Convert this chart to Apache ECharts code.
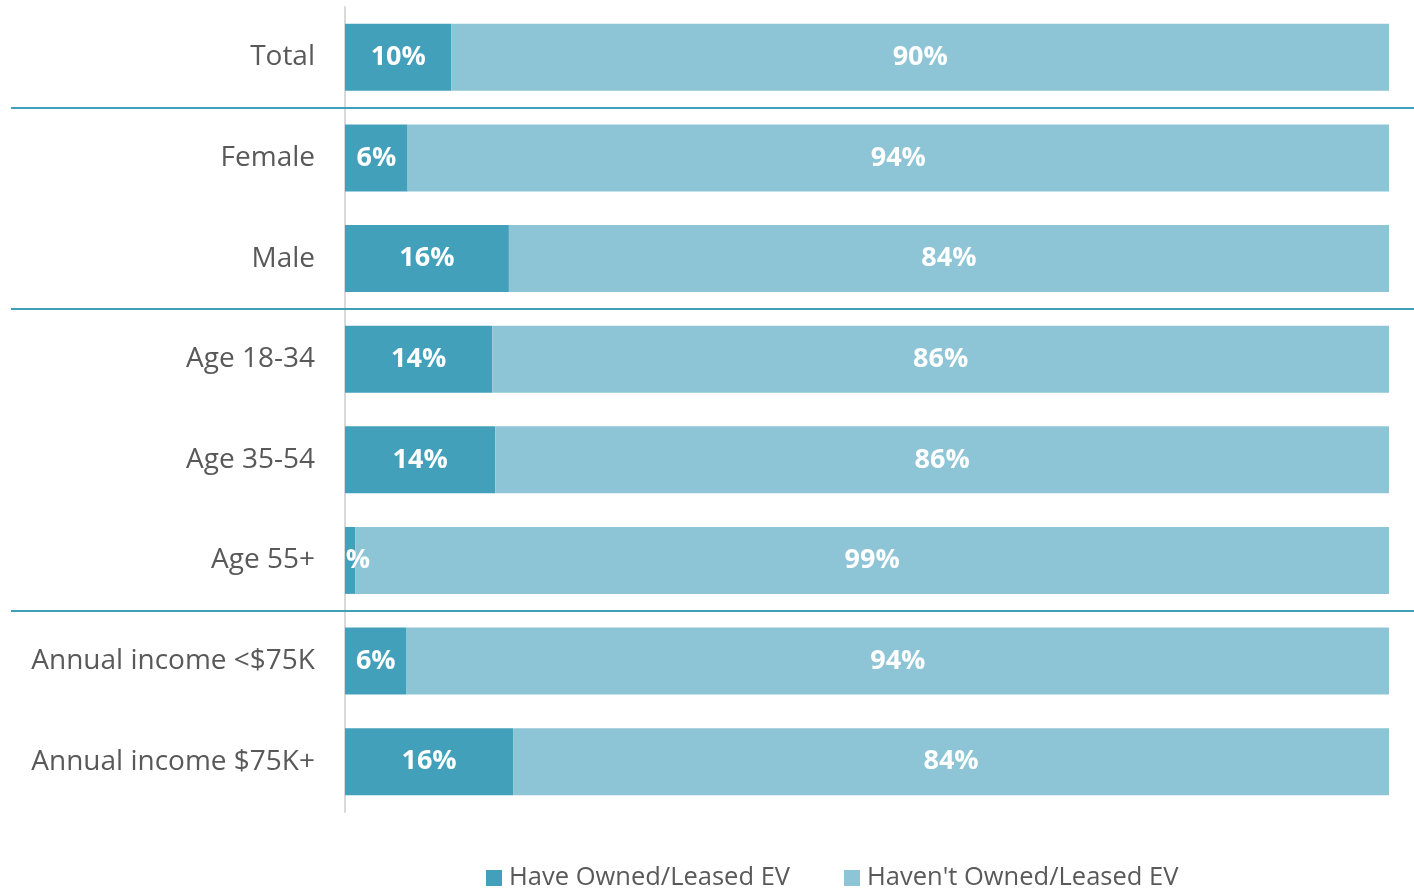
<!DOCTYPE html>
<html>
<head>
<meta charset="utf-8">
<script src="https://cdn.jsdelivr.net/npm/echarts@6/dist/echarts.min.js"></script>
<style>html,body{margin:0;padding:0;background:#fff;}#c{width:1414px;height:889px;}</style>
</head>
<body>
<div id="c"></div>
<script>
const categories = ['Total','Female','Male','Age 18-34','Age 35-54','Age 55+','Annual income <$75K','Annual income $75K+'];
const haveOwned = [10.2, 6.0, 15.7, 14.1, 14.4, 1.0, 5.9, 16.1];
const haventOwned = [89.8, 94.0, 84.3, 85.9, 85.6, 99.0, 94.1, 83.9];
const seriesNames = ['Have Owned/Leased EV', "Haven't Owned/Leased EV"];
// separators drawn after these category indices
const separatorsAfter = [0, 2, 5];

const FONT = 'Open Sans';
const chart = echarts.init(document.getElementById('c'));
const labelStyle = {
  show: true, position: 'inside', color: '#ffffff', fontFamily: FONT,
  fontWeight: 'bold', fontSize: 27,
  formatter: p => Math.round(p.value) + '%'
};
chart.setOption({
  animation: false,
  grid: { left: 345, right: 25, top: 7, bottom: 77, containLabel: false },
  xAxis: { type: 'value', min: 0, max: 100, show: false },
  yAxis: {
    type: 'category', data: categories, inverse: true,
    axisLine: { show: true, lineStyle: { color: '#d9d9d9', width: 2 } },
    axisTick: { show: false },
    axisLabel: { color: '#595959', fontFamily: FONT, fontSize: 28, margin: 30 }
  },
  legend: {
    top: 860, left: 481, itemWidth: 16, itemHeight: 16, itemGap: 54,
    icon: 'rect',
    textStyle: { color: '#595959', fontFamily: FONT, fontSize: 25.5, padding: [0,0,0,2] },
    data: seriesNames
  },
  series: [
    { name: seriesNames[0], type: 'bar', stack: 's', data: haveOwned, barCategoryGap: '33.5%',
      itemStyle: { color: '#42a0bb' }, label: labelStyle, z: 2 },
    { name: seriesNames[1], type: 'bar', stack: 's', data: haventOwned, barCategoryGap: '33.5%',
      itemStyle: { color: '#8ec5d6' }, label: labelStyle, z: 2 }
  ]
});

function drawExtras() {
  const els = [];
  const x0 = chart.convertToPixel({ gridIndex: 0 }, [0, 0])[0];
  const top = chart.convertToPixel({ yAxisIndex: 0 }, categories[0]);
  const bot = chart.convertToPixel({ yAxisIndex: 0 }, categories[categories.length - 1]);
  const band = (bot - top) / (categories.length - 1);
  // white mask just left of the axis (clips overflowing inside labels)
  els.push({ type: 'rect', shape: { x: x0 - 28, y: top - band / 2, width: 27, height: bot - top + band },
    style: { fill: '#fff' }, z: 100 });
  separatorsAfter.forEach(i => {
    const y = Math.round((chart.convertToPixel({ yAxisIndex: 0 }, categories[i]) +
                          chart.convertToPixel({ yAxisIndex: 0 }, categories[i + 1])) / 2);
    els.push({ type: 'line', shape: { x1: 11, y1: y, x2: 1414, y2: y },
      style: { stroke: '#40a0bb', lineWidth: 2 }, z: 101 });
  });
  chart.setOption({ graphic: { elements: els } });
}
drawExtras();
</script>
</body>
</html>
